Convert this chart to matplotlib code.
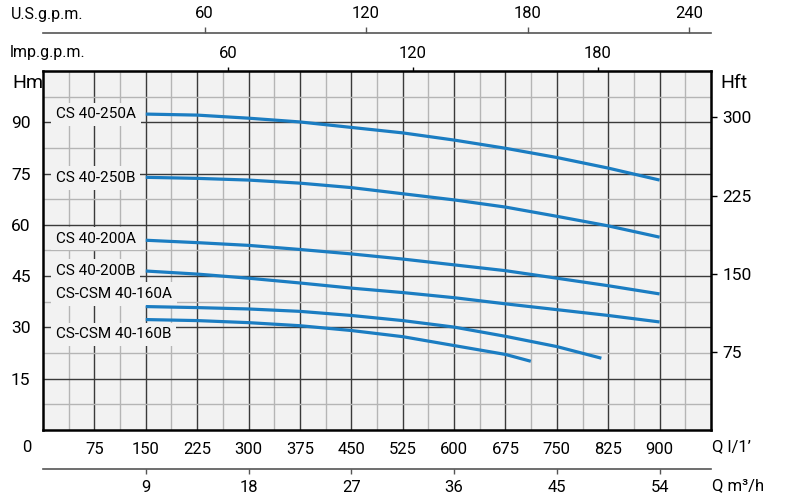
import matplotlib
matplotlib.use('Agg')
import matplotlib.pyplot as plt

plt.rcParams['font.family'] = ['Roboto', 'DejaVu Sans']

# portata (l/min) e prevalenza (m)
q_full = [150, 225, 300, 375, 450, 525, 600, 675, 750, 825, 900]
h_250A = [92.4, 92.1, 91.2, 90.1, 88.5, 86.9, 84.8, 82.4, 79.7, 76.6, 73.1]
h_250B = [73.9, 73.6, 73.1, 72.2, 70.9, 69.1, 67.3, 65.2, 62.5, 59.7, 56.4]
h_200A = [55.5, 54.8, 54.0, 52.8, 51.5, 50.0, 48.3, 46.6, 44.4, 42.2, 39.8]
h_200B = [46.5, 45.6, 44.4, 43.0, 41.5, 40.2, 38.7, 36.9, 35.2, 33.5, 31.6]
q_160A = [150, 225, 300, 375, 450, 525, 600, 675, 750, 815]
h_160A = [36.1, 35.8, 35.4, 34.7, 33.5, 32.0, 30.1, 27.4, 24.4, 21.0]
q_160B = [150, 225, 300, 375, 450, 525, 600, 675, 712]
h_160B = [32.3, 32.0, 31.4, 30.5, 29.1, 27.3, 24.7, 22.1, 20.1]

nomi = ['CS 40-250A', 'CS 40-250B', 'CS 40-200A', 'CS 40-200B',
        'CS-CSM 40-160A', 'CS-CSM 40-160B']
curve = [(q_full, h_250A), (q_full, h_250B), (q_full, h_200A),
         (q_full, h_200B), (q_160A, h_160A), (q_160B, h_160B)]
# posizione verticale delle etichette (m)
y_etichette = [92.3, 73.7, 56.0, 46.6, 39.8, 28.0]

q_ticks = [75, 150, 225, 300, 375, 450, 525, 600, 675, 750, 825, 900]
m3h_ticks = [9, 18, 27, 36, 45, 54]
imp_ticks = [60, 120, 180]
us_ticks = [60, 120, 180, 240]
hm_ticks = [15, 30, 45, 60, 75, 90]
hft_ticks = [75, 150, 225, 300]

BLU = '#1b7dc2'
SFONDO = '#f2f2f2'

fig = plt.figure(figsize=(8, 5), dpi=100)
ax = fig.add_axes([43 / 800, 1 - 430 / 500, 668 / 800, 359 / 500])
ax.set_facecolor(SFONDO)
ax.set_xlim(0, 975)
ax.set_ylim(0, 105)

# griglia
ax.set_xticks(q_ticks)
ax.set_xticks([37.5 + 75 * i for i in range(13)], minor=True)
ax.set_yticks(hm_ticks)
ax.set_yticks([7.5 + 15 * i for i in range(7)], minor=True)
ax.grid(which='major', color='#3a3a3a', linewidth=1.0)
ax.grid(which='minor', color='#b5b5b5', linewidth=1.0)
ax.set_axisbelow(True)
ax.tick_params(which='both', length=0)
ax.tick_params(axis='x', pad=9, labelsize=12)
ax.tick_params(axis='y', pad=9, labelsize=12.5)
for s in ax.spines.values():
    s.set_linewidth(1.8)

# curve
for (q, h) in curve:
    ax.plot(q, h, color=BLU, linewidth=2.3, solid_capstyle='butt', zorder=3)

for nome, y in zip(nomi, y_etichette):
    ax.text(19, y, nome, fontsize=11, ha='left', va='center', zorder=2,
            bbox=dict(boxstyle='square,pad=0.3', facecolor=SFONDO, edgecolor='none'))

# assi secondari
imp = ax.secondary_xaxis('top', functions=(lambda q: q / 4.5, lambda g: g * 4.5))
imp.set_xticks(imp_ticks)
imp.tick_params(direction='out', length=3, width=1, pad=4, labelsize=12)

us = ax.secondary_xaxis(1 + 38.3 / 359, functions=(lambda q: q / 3.93, lambda g: g * 3.93))
us.set_xticks(us_ticks)
us.tick_params(direction='out', length=4.5, width=1, pad=4, labelsize=12, color='#555555')
us.spines['top'].set_color('#555555')
us.spines['top'].set_linewidth(1.2)

m3h = ax.secondary_xaxis(-39.3 / 359, functions=(lambda q: q * 0.06, lambda m: m / 0.06))
m3h.set_xticks(m3h_ticks)
m3h.tick_params(direction='out', length=3.5, width=1, pad=4, labelsize=12, color='#555555')
m3h.spines['bottom'].set_color('#555555')
m3h.spines['bottom'].set_linewidth(1.2)

hft = ax.secondary_yaxis('right', functions=(lambda m: m * 3.281, lambda f: f / 3.281))
hft.set_yticks(hft_ticks)
hft.tick_params(direction='out', length=4, width=1, pad=4, labelsize=12.5)

# testi
fig.text(11 / 800, 1 - 15 / 500, 'U.S.g.p.m.', fontsize=11.5, ha='left', va='center')
fig.text(10 / 800, 1 - 53 / 500, 'lmp.g.p.m.', fontsize=11.5, ha='left', va='center')
fig.text(12 / 800, 1 - 83 / 500, 'Hm', fontsize=14, ha='left', va='center')
fig.text(720 / 800, 1 - 83 / 500, 'Hft', fontsize=14, ha='left', va='center')
fig.text(27 / 800, 1 - 447 / 500, '0', fontsize=12, ha='center', va='center')
fig.text(712 / 800, 1 - 447 / 500, 'Q l/1’', fontsize=12, ha='left', va='center')
fig.text(712 / 800, 1 - 486 / 500, 'Q m³/h', fontsize=12, ha='left', va='center')

plt.savefig('out.png', dpi=100)
plt.close()
